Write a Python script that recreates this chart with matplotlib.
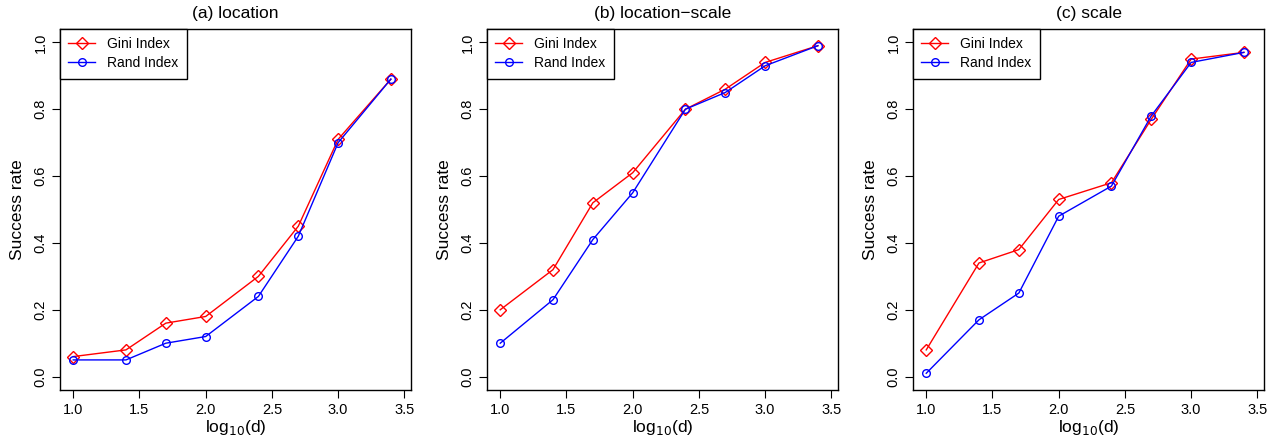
import matplotlib
matplotlib.use('Agg')
import matplotlib.pyplot as plt

plt.rcParams['font.family'] = ['Liberation Sans', 'DejaVu Sans']

logd = [1.0, 1.398, 1.699, 2.0, 2.398, 2.699, 3.0, 3.398]

titles = ['(a) location', '(b) location\u2212scale', '(c) scale']

gini_a = [0.06, 0.08, 0.16, 0.18, 0.30, 0.45, 0.71, 0.89]
rand_a = [0.05, 0.05, 0.10, 0.12, 0.24, 0.42, 0.70, 0.89]
gini_b = [0.20, 0.32, 0.52, 0.61, 0.80, 0.86, 0.94, 0.99]
rand_b = [0.10, 0.23, 0.41, 0.55, 0.80, 0.85, 0.93, 0.99]
gini_c = [0.08, 0.34, 0.38, 0.53, 0.58, 0.77, 0.95, 0.97]
rand_c = [0.01, 0.17, 0.25, 0.48, 0.57, 0.78, 0.94, 0.97]

xticks = [1.0, 1.5, 2.0, 2.5, 3.0, 3.5]
yticks = [0.0, 0.2, 0.4, 0.6, 0.8, 1.0]

fig = plt.figure(figsize=(12.73, 4.42), dpi=100)
lefts = [60, 487, 913]
series = [(gini_a, rand_a), (gini_b, rand_b), (gini_c, rand_c)]

for left, title, (gini, rand) in zip(lefts, titles, series):
    ax = fig.add_axes([left / 1273, 52 / 442, 351 / 1273, 361 / 442])
    ax.plot(logd, gini, color='red', lw=1, marker='D', ms=6, mfc='none',
            mec='red', mew=1, label='Gini Index')
    ax.plot(logd, rand, color='blue', lw=1, marker='o', ms=5.5, mfc='none',
            mec='blue', mew=1, label='Rand Index')
    ax.set_xlim(0.9, 3.55)
    ax.set_ylim(-0.04, 1.04)
    ax.set_xticks(xticks)
    ax.set_xticklabels(['%.1f' % t for t in xticks])
    ax.set_yticks(yticks)
    ax.set_yticklabels(['%.1f' % t for t in yticks], rotation=90, va='center')
    ax.tick_params(direction='out', length=6, width=0.8, labelsize=10.5, pad=3)
    for s in ax.spines.values():
        s.set_linewidth(1)
    ax.set_title(title, fontsize=12.5, pad=8)
    ax.set_xlabel('log$_{10}$(d)', fontsize=12.5, labelpad=1)
    ax.set_ylabel('Success rate', fontsize=12.5, labelpad=6)
    leg = ax.legend(loc='upper left', borderaxespad=0, fancybox=False,
                    edgecolor='black', framealpha=1, fontsize=10,
                    handlelength=1.9, handletextpad=0.9, borderpad=0.6,
                    labelspacing=0.35)
    leg.get_frame().set_linewidth(1)

fig.savefig('out.png', dpi=100)
